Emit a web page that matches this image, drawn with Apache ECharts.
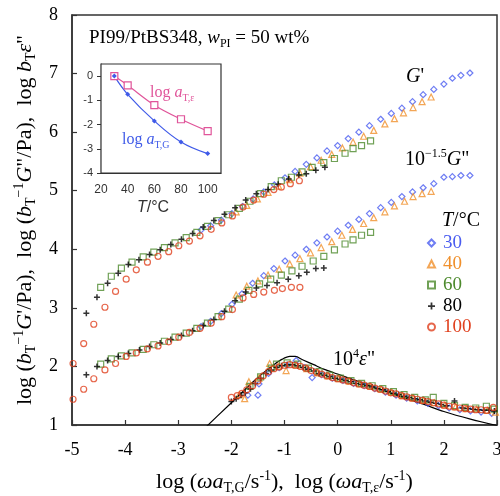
<!DOCTYPE html>
<html><head><meta charset="utf-8">
<script src="https://cdn.jsdelivr.net/npm/echarts@6/dist/echarts.min.js"></script>
<style>html,body{margin:0;padding:0;background:#fff}#c{width:500px;height:496px}</style>
</head><body><div id="c"></div>
<script>
// ---------------- data ----------------
const temps = ['30', '40', '60', '80', '100'];
const xRange = [-5, 3];
const yRange = [1, 8];

// log(bT^-1 G'/Pa)
const gp30 = [[-2.57,4.33],[-2.39,4.40],[-2.19,4.50],[-1.99,4.61],[-1.79,4.73],[-1.59,4.86],[-1.39,4.98],[-1.19,5.10],[-0.99,5.22],[-0.80,5.33],[-0.59,5.45],[-0.39,5.56],[-0.20,5.68],[0.00,5.77],[0.20,5.89],[0.40,6.00],[0.60,6.11],[0.81,6.22],[1.01,6.32],[1.21,6.41],[1.41,6.52],[1.61,6.64],[1.81,6.73],[2.00,6.82],[2.16,6.92],[2.32,6.97],[2.49,7.01]];
const gp40 = [[-1.91,4.64],[-1.71,4.75],[-1.51,4.86],[-1.31,4.97],[-1.11,5.08],[-0.91,5.19],[-0.71,5.30],[-0.51,5.41],[-0.31,5.52],[-0.11,5.62],[0.09,5.73],[0.29,5.83],[0.49,5.93],[0.68,6.03],[0.89,6.14],[1.07,6.23],[1.24,6.33],[1.42,6.42],[1.59,6.52],[1.76,6.60]];
const gp60 = [[-4.46,3.35],[-4.26,3.54],[-4.07,3.68],[-3.87,3.78],[-3.66,3.87],[-3.46,3.95],[-3.26,4.03],[-3.06,4.11],[-2.85,4.20],[-2.65,4.29],[-2.45,4.39],[-2.25,4.49],[-2.05,4.59],[-1.85,4.70],[-1.65,4.82],[-1.45,4.95],[-1.25,5.07],[-1.06,5.17],[-0.87,5.23],[-0.67,5.32],[-0.48,5.40],[-0.26,5.48],[-0.06,5.55],[0.14,5.64],[0.29,5.72],[0.45,5.77],[0.62,5.85]];
const gp80 = [[-4.73,2.91],[-4.53,3.18],[-4.33,3.42],[-4.13,3.59],[-3.94,3.74],[-3.74,3.82],[-3.54,3.91],[-3.34,3.99],[-3.14,4.08],[-2.94,4.17],[-2.73,4.27],[-2.53,4.38],[-2.33,4.49],[-2.13,4.60],[-1.93,4.71],[-1.73,4.84],[-1.53,4.95],[-1.31,5.02],[-1.12,5.11],[-0.92,5.20],[-0.73,5.27],[-0.59,5.29],[-0.41,5.35],[-0.24,5.40]];
const gp100 = [[-4.98,2.05],[-4.78,2.39],[-4.59,2.72],[-4.38,3.01],[-4.18,3.28],[-3.98,3.49],[-3.79,3.65],[-3.58,3.78],[-3.38,3.88],[-3.18,3.96],[-2.99,4.06],[-2.79,4.14],[-2.59,4.23],[-2.38,4.34],[-2.18,4.45],[-1.98,4.57],[-1.78,4.72],[-1.58,4.84],[-1.39,4.94],[-1.20,5.02],[-1.06,5.06],[-0.89,5.12],[-0.72,5.17]];

// log(10^-1.5 bT^-1 G''/Pa)
const gpp30 = [[-2.57,2.68],[-2.39,2.77],[-2.19,2.90],[-1.99,3.06],[-1.80,3.24],[-1.60,3.42],[-1.39,3.55],[-1.20,3.67],[-0.99,3.80],[-0.80,3.90],[-0.59,4.00],[-0.39,4.11],[-0.20,4.21],[0.00,4.31],[0.20,4.41],[0.40,4.51],[0.60,4.61],[0.81,4.71],[1.01,4.80],[1.21,4.90],[1.41,4.98],[1.61,5.05],[1.81,5.12],[2.00,5.23],[2.16,5.24],[2.32,5.26],[2.49,5.26]];
const gpp40 = [[-1.91,3.22],[-1.71,3.37],[-1.50,3.46],[-1.31,3.56],[-1.10,3.66],[-0.90,3.75],[-0.71,3.84],[-0.51,3.94],[-0.31,4.03],[-0.11,4.13],[0.08,4.24],[0.28,4.34],[0.49,4.44],[0.68,4.54],[0.89,4.64],[1.07,4.74],[1.26,4.82],[1.42,4.90],[1.59,4.95],[1.76,4.99]];
const gpp60 = [[-4.46,2.04],[-4.26,2.13],[-4.07,2.18],[-3.87,2.23],[-3.66,2.29],[-3.46,2.37],[-3.26,2.43],[-3.06,2.50],[-2.85,2.57],[-2.65,2.65],[-2.45,2.74],[-2.25,2.85],[-2.05,2.98],[-1.85,3.15],[-1.67,3.30],[-1.47,3.41],[-1.26,3.49],[-1.06,3.56],[-0.86,3.63],[-0.67,3.71],[-0.46,3.80],[-0.26,3.88],[-0.06,3.99],[0.14,4.09],[0.29,4.16],[0.45,4.24],[0.62,4.29]];
const gpp80 = [[-4.73,1.86],[-4.53,2.00],[-4.33,2.10],[-4.13,2.17],[-3.94,2.22],[-3.73,2.28],[-3.54,2.34],[-3.34,2.40],[-3.14,2.46],[-2.94,2.53],[-2.73,2.61],[-2.53,2.70],[-2.33,2.80],[-2.13,2.94],[-1.93,3.12],[-1.73,3.27],[-1.53,3.34],[-1.33,3.38],[-1.14,3.43],[-0.93,3.49],[-0.73,3.55],[-0.58,3.61],[-0.41,3.67],[-0.26,3.68]];
const gpp100 = [[-4.98,1.44],[-4.78,1.61],[-4.59,1.79],[-4.38,1.94],[-4.18,2.05],[-3.98,2.17],[-3.79,2.23],[-3.58,2.30],[-3.38,2.35],[-3.18,2.42],[-2.99,2.50],[-2.79,2.58],[-2.59,2.65],[-2.38,2.74],[-2.18,2.85],[-1.98,2.97],[-1.78,3.17],[-1.58,3.23],[-1.39,3.27],[-1.19,3.30],[-1.04,3.33],[-0.87,3.35],[-0.71,3.35]];

// log(10^4 bT eps'')
const eps30 = [[-1.69,1.51],[-1.50,1.51],[-1.48,1.70],[-1.30,1.88],[-1.10,1.98],[-0.95,2.02],[-0.78,2.10],[-0.62,1.98],[-0.48,1.81],[-0.30,1.86],[-0.10,1.80],[0.10,1.76],[0.30,1.71],[0.50,1.67],[0.70,1.62],[0.90,1.56],[1.10,1.51],[1.30,1.46],[1.50,1.41],[1.70,1.37],[1.90,1.33],[2.10,1.29],[2.30,1.26],[2.50,1.24],[2.70,1.22],[2.90,1.20]];
const eps40 = [[-1.85,1.52],[-1.75,1.45],[-1.67,1.74],[-1.48,1.80],[-1.28,2.05],[-1.12,2.00],[-0.97,1.93],[-0.78,2.02],[-0.58,1.96],[-0.38,1.89],[-0.18,1.84],[0.02,1.79],[0.22,1.75],[0.42,1.70],[0.62,1.66],[0.82,1.61],[1.02,1.56],[1.22,1.50],[1.42,1.46],[1.62,1.42],[1.82,1.38],[2.02,1.34],[2.22,1.31],[2.42,1.28],[2.62,1.27],[2.82,1.25],[2.97,1.22]];
const eps60 = [[-1.65,1.66],[-1.45,1.82],[-1.25,1.97],[-1.15,2.04],[-0.95,2.06],[-0.75,2.04],[-0.55,1.97],[-0.35,1.91],[-0.15,1.85],[0.05,1.80],[0.25,1.76],[0.45,1.71],[0.65,1.67],[0.85,1.62],[1.05,1.57],[1.25,1.52],[1.45,1.47],[1.65,1.43],[1.80,1.47],[2.00,1.37],[2.20,1.33],[2.40,1.30],[2.60,1.29],[2.80,1.32],[2.95,1.27]];
const eps80 = [[-2.00,1.40],[-1.91,1.45],[-1.82,1.51],[-1.74,1.55],[-1.64,1.62],[-1.55,1.71],[-1.45,1.80],[-1.35,1.88],[-1.25,1.94],[-1.15,1.98],[-1.05,2.01],[-0.95,2.03],[-0.85,2.03],[-0.75,2.01],[-0.65,1.98],[-0.55,1.95],[-0.45,1.92],[-0.35,1.88],[-0.25,1.85],[-0.15,1.83],[-0.05,1.80],[0.05,1.78],[0.15,1.76],[0.25,1.74],[0.35,1.71],[0.45,1.69],[0.55,1.67],[0.65,1.65],[0.75,1.62],[0.85,1.60],[0.95,1.57],[1.05,1.54],[1.15,1.52],[1.25,1.49],[1.35,1.47],[1.45,1.45],[1.55,1.43],[1.65,1.41],[1.75,1.39],[1.85,1.37],[1.95,1.35],[2.05,1.33],[2.20,1.41],[2.35,1.29],[2.45,1.28],[2.55,1.27],[2.65,1.26],[2.75,1.25],[2.85,1.25],[2.95,1.24]];
const eps100 = [[-2.00,1.47],[-1.89,1.50],[-1.80,1.54],[-1.71,1.60],[-1.60,1.67],[-1.50,1.75],[-1.40,1.84],[-1.30,1.91],[-1.20,1.96],[-1.10,1.99],[-1.00,2.02],[-0.90,2.03],[-0.80,2.02],[-0.70,2.00],[-0.60,1.97],[-0.50,1.93],[-0.40,1.90],[-0.30,1.87],[-0.20,1.84],[-0.10,1.81],[0.00,1.79],[0.10,1.77],[0.20,1.75],[0.30,1.72],[0.40,1.70],[0.50,1.68],[0.60,1.66],[0.70,1.63],[0.80,1.61],[0.90,1.58],[1.00,1.55],[1.10,1.53],[1.20,1.50],[1.30,1.48],[1.40,1.46],[1.50,1.44],[1.60,1.42],[1.70,1.40],[1.80,1.38],[1.90,1.36],[2.00,1.34],[2.10,1.32],[2.20,1.31],[2.30,1.29],[2.40,1.28],[2.50,1.27],[2.60,1.26],[2.70,1.26],[2.80,1.25],[2.93,1.30]];

// model curve for 10^4 eps''
const epsLine = [[-2.60,0.86],[-2.00,1.38],[-1.60,1.73],[-1.40,1.89],[-1.20,2.03],[-1.05,2.12],[-0.90,2.17],[-0.80,2.17],[-0.65,2.11],[-0.45,2.03],[-0.25,1.95],[0.00,1.87],[0.40,1.74],[0.80,1.61],[1.20,1.48],[1.60,1.36],[2.00,1.23],[2.50,1.10],[3.00,0.99]];

// inset: shift factors
const insetT = [30, 40, 60, 80, 100];
const logaTG = [0, -0.75, -1.85, -2.72, -3.20];
const logaTE = [0, -0.38, -1.20, -1.78, -2.27];
const insetXTicks = [20, 40, 60, 80, 100];
const insetYTicks = [-4, -3, -2, -1, 0];

// ---------------- styling ----------------
const SERIF = 'Liberation Serif';
const SANS = 'Liberation Sans';
const col = {'30':'#4a5cf0','40':'#f0902c','60':'#4c8a2c','80':'#000000','100':'#e0401e'};
const PLUS = 'path://M3,0H5V3H8V5H5V8H3V5H0V3H3Z';
const sym = {'30':'diamond','40':'triangle','60':'rect','80':PLUS,'100':'circle'};
const symSize = {'30':6,'40':6,'60':6,'80':6,'100':6};
const sets = {'30':[gp30,gpp30,eps30],'40':[gp40,gpp40,eps40],'60':[gp60,gpp60,eps60],'80':[gp80,gpp80,eps80],'100':[gp100,gpp100,eps100]};

function rich(size, color, lh) {
  const s = Math.round(size * 0.62);
  return {
    n: {fontFamily: SERIF, fontSize: size, color: color, lineHeight: lh},
    i: {fontFamily: SERIF, fontSize: size, color: color, fontStyle: 'italic', lineHeight: lh},
    sub: {fontFamily: SERIF, fontSize: s, color: color, verticalAlign: 'bottom', lineHeight: s},
    sup: {fontFamily: SERIF, fontSize: s, color: color, verticalAlign: 'top', lineHeight: s}
  };
}
function label(text, left, top, size, color, lh) {
  return {text: text, left: left, top: top, padding: 0, itemGap: 0,
    textStyle: {fontFamily: SERIF, fontSize: size, fontWeight: 'normal', color: color, lineHeight: lh, rich: rich(size, color, lh)}};
}

const series = [];
series.push({type: 'line', name: 'model', data: epsLine, symbol: 'none', smooth: 0.3,
  lineStyle: {color: '#000', width: 1.2}, silent: true, z: 1});
temps.forEach(t => {
  sets[t].forEach(d => {
    const hollow = t !== '80';
    series.push({type: 'scatter', name: t, data: d, symbol: sym[t], symbolSize: symSize[t], z: 2,
      itemStyle: hollow ? {color: 'rgba(255,255,255,0)', borderColor: col[t], borderWidth: 1.2}
                        : {color: '#000', borderWidth: 0},
      silent: true});
  });
});
const cBlue = '#3f5ae8', cPink = '#e0559a';
series.push({type: 'line', xAxisIndex: 1, yAxisIndex: 1, data: insetT.map((t, k) => [t, logaTE[k]]),
  smooth: 0.3, symbol: 'rect', symbolSize: 7, lineStyle: {color: cPink, width: 1.2},
  itemStyle: {color: '#fff', borderColor: cPink, borderWidth: 1.2}, z: 5});
series.push({type: 'line', xAxisIndex: 1, yAxisIndex: 1, data: insetT.map((t, k) => [t, logaTG[k]]),
  smooth: 0.4, symbol: 'diamond', symbolSize: 5, lineStyle: {color: cBlue, width: 1.2},
  itemStyle: {color: cBlue}, z: 5});

const axCol = '#333';
const option = {
  animation: false,
  backgroundColor: '#fff',
  grid: [
    {left: 72, right: 3, top: 15, bottom: 71, show: true, borderColor: axCol, borderWidth: 1.5,
     backgroundColor: 'transparent', outerBoundsMode: 'none', containLabel: false},
    {left: 101, top: 64, width: 120, height: 109, show: true, borderColor: axCol, borderWidth: 1.2,
     backgroundColor: '#fff', z: 4, outerBoundsMode: 'none', containLabel: false}
  ],
  xAxis: [
    {type: 'value', gridIndex: 0, min: xRange[0], max: xRange[1], interval: 1,
     axisLine: {show: true, onZero: false, lineStyle: {color: axCol, width: 1.5}},
     axisTick: {show: true, inside: true, length: 5, lineStyle: {color: axCol, width: 1.2}},
     axisLabel: {fontFamily: SERIF, fontSize: 18, color: '#000', margin: 16},
     splitLine: {show: false},
     name: '{n|log (}{i|ωa}{sub|T,G}{n|/s}{sup|-1}{n|),  log (}{i|ωa}{sub|T,ε}{n|/s}{sup|-1}{n|)}',
     nameLocation: 'middle', nameGap: 44,
     nameTextStyle: {fontFamily: SERIF, fontSize: 22, color: '#000', lineHeight: 26, rich: rich(22, '#000', 26)}},
    {type: 'value', gridIndex: 1, min: 20, max: 110, interval: 20,
     axisLine: {show: true, onZero: false, lineStyle: {color: axCol, width: 1.2}},
     axisTick: {show: true, inside: true, length: 4, customValues: insetXTicks, lineStyle: {color: axCol}},
     axisLabel: {fontFamily: SANS, fontSize: 12, color: '#333', margin: 11, customValues: insetXTicks},
     splitLine: {show: false}}
  ],
  yAxis: [
    {type: 'value', gridIndex: 0, min: yRange[0], max: yRange[1], interval: 1,
     axisLine: {show: true, onZero: false, lineStyle: {color: axCol, width: 1.5}},
     axisTick: {show: true, inside: true, length: 5, lineStyle: {color: axCol, width: 1.2}},
     axisLabel: {fontFamily: SERIF, fontSize: 18, color: '#000', margin: 14},
     splitLine: {show: false},
     name: '{n|log (}{i|b}{sub|T}{sup|−1}{i|G}{n|\'/Pa),  log (}{i|b}{sub|T}{sup|−1}{i|G}{n|"/Pa),  log }{i|b}{sub|T}{i|ε}{n|"}',
     nameLocation: 'middle', nameGap: 31, nameRotate: 90,
     nameTextStyle: {fontFamily: SERIF, fontSize: 22, color: '#000', lineHeight: 26, rich: rich(22, '#000', 26)}},
    {type: 'value', gridIndex: 1, min: -4, max: 0.5, interval: 1,
     axisLine: {show: true, onZero: false, lineStyle: {color: axCol, width: 1.2}},
     axisTick: {show: true, inside: false, length: 4, customValues: insetYTicks, lineStyle: {color: axCol}},
     axisLabel: {fontFamily: SANS, fontSize: 11, color: '#333', margin: 8, customValues: insetYTicks},
     splitLine: {show: false}}
  ],
  legend: {
    orient: 'vertical', left: 427, top: 233, itemWidth: 7, itemHeight: 7, itemGap: 1,
    padding: 0, selectedMode: false,
    textStyle: {fontFamily: SERIF, fontSize: 19, lineHeight: 20, padding: [0, 0, 0, 3]},
    data: temps.map(t => ({name: t, textStyle: {color: col[t] === '#000000' ? '#000' : col[t]}}))
  },
  title: [
    label('{n|PI99/PtBS348, }{i|w}{sub|PI}{n| = 50 wt%}', 89, 26, 19, '#000', 24),
    label('{i|G}{n|\'}', 406, 65, 20, '#000', 24),
    label('{n|10}{sup|−1.5}{i|G}{n|"}', 405, 148, 20, '#000', 24),
    label('{i|T}{n|/°C}', 442, 209, 20, '#000', 24),
    label('{n|10}{sup|4}{i|ε}{n|"}', 333, 348, 20, '#000', 24),
    label('{n|log }{i|a}{sub|T,ε}', 150, 83, 16, cPink, 20),
    label('{n|log }{i|a}{sub|T,G}', 122, 130, 16, cBlue, 20),
    {text: '{i|T}{n|/°C}', left: 137, top: 198, padding: 0,
     textStyle: {fontFamily: SANS, fontSize: 16, fontWeight: 'normal', color: '#333', lineHeight: 20,
       rich: {n: {fontFamily: SANS, fontSize: 16, color: '#333', lineHeight: 20},
              i: {fontFamily: SANS, fontSize: 16, color: '#333', fontStyle: 'italic', lineHeight: 20}}}}
  ],
  series: series
};
const chart = echarts.init(document.getElementById('c'), null, {renderer: 'canvas'});
chart.setOption(option);
</script>
</body></html>
